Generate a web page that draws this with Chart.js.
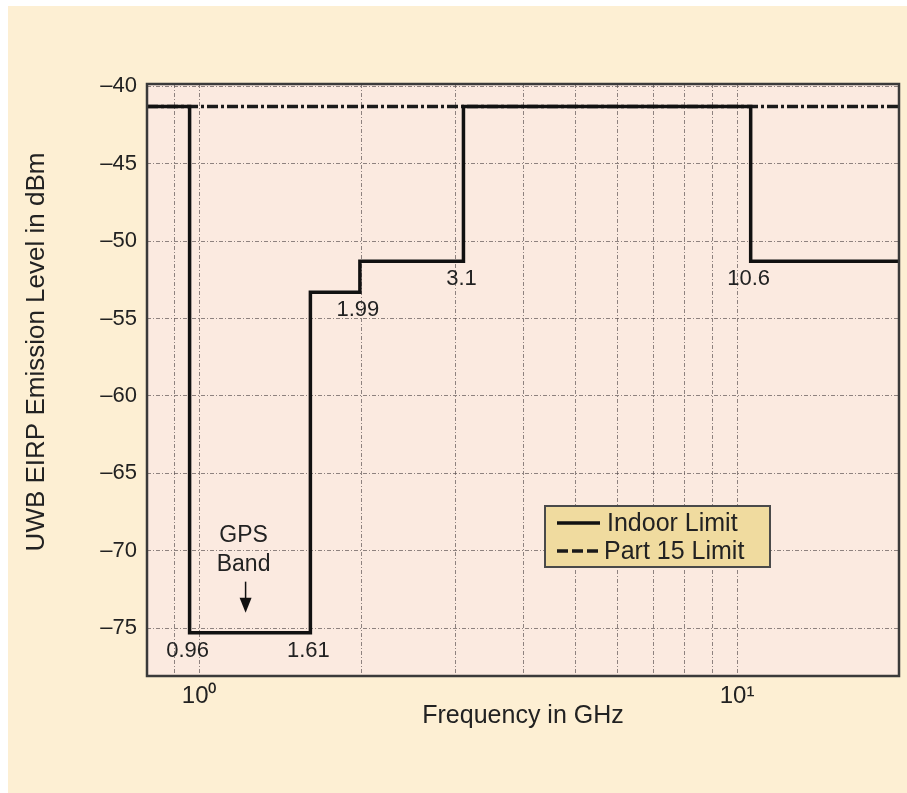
<!DOCTYPE html>
<html>
<head>
<meta charset="utf-8">
<script src="https://cdn.jsdelivr.net/npm/chart.js@4.4.1/dist/chart.umd.min.js"></script>
<style>
html,body{margin:0;padding:0;background:#ffffff;}
canvas{display:block;}
</style>
</head>
<body>
<canvas id="c" width="907" height="793"></canvas>
<script>
// ---- data ----
const bandEdgesGHz   = [0.8, 0.96, 1.61, 1.99, 3.1, 10.6, 20];
const indoorLimitDbm = [-41.3, -75.3, -53.3, -51.3, -41.3, -51.3, -51.3];
const part15FreqGHz  = [0.8, 20];
const part15LimitDbm = [-41.3, -41.3];
const xGridGHz       = [0.9, 1, 2, 3, 4, 5, 6, 7, 8, 9, 10, 20];
const xTickLabels    = {1: '10\u2070', 10: '10\u00B9'};
const yTicksDbm      = [-75, -70, -65, -60, -55, -50, -45, -40];
const edgeLabelFreqs = [0.96, 1.61, 1.99, 3.1, 10.6];
const edgeLabelTexts = ['0.96', '1.61', '1.99', '3.1', '10.6'];
const gpsArrowFreqGHz = 1.22;
const gpsText = ['GPS', 'Band'];
const legendLabels = ['Indoor Limit', 'Part 15 Limit'];
const yTitle = 'UWB EIRP Emission Level in dBm';
const xTitle = 'Frequency in GHz';

const FONT = "'Liberation Sans', Arial, Helvetica, sans-serif";
Chart.defaults.font.family = FONT;
Chart.defaults.color = '#222';

const decor = {
  id: 'decor',
  beforeDraw(chart) {
    const {ctx, chartArea: ca} = chart;
    ctx.save();
    ctx.fillStyle = '#FDEFD3';
    ctx.fillRect(8, 6, chart.width - 8, chart.height - 6);
    ctx.fillStyle = '#FBEAE0';
    ctx.fillRect(ca.left, ca.top, ca.right - ca.left, ca.bottom - ca.top);
    ctx.restore();
  },
  afterDraw(chart) {
    const {ctx, chartArea: ca, scales: {x, y}} = chart;
    ctx.save();
    // frame
    ctx.strokeStyle = '#3a3a3a';
    ctx.lineWidth = 2.5;
    ctx.strokeRect(ca.left, ca.top, ca.right - ca.left, ca.bottom - ca.top);

    // edge labels
    ctx.fillStyle = '#222';
    ctx.font = '22px ' + FONT;
    ctx.textAlign = 'center';
    ctx.textBaseline = 'middle';
    edgeLabelFreqs.forEach((f, i) => {
      const k = bandEdgesGHz.indexOf(f);
      const lower = Math.min(indoorLimitDbm[k - 1], indoorLimitDbm[k]);
      ctx.fillText(edgeLabelTexts[i], x.getPixelForValue(f) - 2, y.getPixelForValue(lower) + 18);
    });

    // GPS band annotation
    const gx = x.getPixelForValue(gpsArrowFreqGHz);
    const gy = y.getPixelForValue(indoorLimitDbm[1]);
    ctx.font = '23px ' + FONT;
    ctx.fillText(gpsText[0], gx - 2, gy - 97);
    ctx.fillText(gpsText[1], gx - 2, gy - 68);
    ctx.strokeStyle = '#111';
    ctx.lineWidth = 1.5;
    ctx.beginPath();
    ctx.moveTo(gx, gy - 51);
    ctx.lineTo(gx, gy - 32);
    ctx.stroke();
    ctx.fillStyle = '#111';
    ctx.beginPath();
    ctx.moveTo(gx - 6, gy - 35);
    ctx.lineTo(gx + 6, gy - 35);
    ctx.lineTo(gx, gy - 20);
    ctx.closePath();
    ctx.fill();

    // legend
    const lx = ca.left + 398, ly = ca.top + 422, lw = 225, lh = 61;
    ctx.fillStyle = '#F0DB9F';
    ctx.fillRect(lx, ly, lw, lh);
    ctx.strokeStyle = '#4a4a4a';
    ctx.lineWidth = 2;
    ctx.strokeRect(lx, ly, lw, lh);
    const ds = chart.data.datasets;
    [0, 1].forEach(i => {
      const ry = ly + 17 + i * 28;
      ctx.strokeStyle = ds[i].borderColor;
      ctx.lineWidth = 3.5;
      ctx.setLineDash(i === 0 ? [] : [11, 4]);
      ctx.beginPath();
      ctx.moveTo(lx + 12, ry);
      ctx.lineTo(lx + 55, ry);
      ctx.stroke();
      ctx.setLineDash([]);
      ctx.fillStyle = '#222';
      ctx.font = '25px ' + FONT;
      ctx.textAlign = 'left';
      ctx.textBaseline = 'middle';
      ctx.fillText(legendLabels[i], lx + (i === 0 ? 62 : 59), ry + 1);
    });

    // y axis title
    ctx.save();
    ctx.translate(37, 352);
    ctx.rotate(-Math.PI / 2);
    ctx.font = '26px ' + FONT;
    ctx.textAlign = 'center';
    ctx.textBaseline = 'middle';
    ctx.fillStyle = '#222';
    ctx.fillText(yTitle, 0, 0);
    ctx.restore();

    ctx.restore();
  }
};

const gridColor = 'rgba(95,85,85,0.7)';

new Chart(document.getElementById('c'), {
  type: 'line',
  data: {
    datasets: [
      {
        label: legendLabels[0],
        data: bandEdgesGHz.map((f, i) => ({x: f, y: indoorLimitDbm[i]})),
        stepped: true,
        borderColor: '#111111',
        borderWidth: 3.5,
        pointRadius: 0,
        fill: false,
        order: 0
      },
      {
        label: legendLabels[1],
        data: part15FreqGHz.map((f, i) => ({x: f, y: part15LimitDbm[i]})),
        borderColor: '#1a1a1a',
        borderWidth: 3.5,
        borderDash: [11, 3, 3, 3],
        pointRadius: 0,
        fill: false,
        order: 1
      }
    ]
  },
  options: {
    responsive: false,
    animation: false,
    devicePixelRatio: 1,
    layout: {padding: {left: 8, top: 84, right: 8, bottom: 47}},
    plugins: {legend: {display: false}, tooltip: {enabled: false}},
    scales: {
      x: {
        type: 'logarithmic',
        min: 0.8,
        max: 20,
        afterBuildTicks: s => { s.ticks = xGridGHz.map(v => ({value: v})); },
        afterFit: s => { s.height = 70; },
        ticks: {
          autoSkip: false, maxRotation: 0, minRotation: 0, padding: 6,
          color: '#222', font: {size: 24},
          callback: v => xTickLabels[v] || ''
        },
        grid: {color: gridColor, lineWidth: 1, drawTicks: false},
        border: {display: false, dash: [4, 2, 1, 2]},
        title: {display: true, text: xTitle, color: '#222', font: {size: 25}, padding: {top: 0, bottom: 15}}
      },
      y: {
        type: 'linear',
        min: -78.1,
        max: -39.85,
        afterBuildTicks: s => { s.ticks = yTicksDbm.map(v => ({value: v})); },
        afterFit: s => { s.width = 139; },
        ticks: {
          padding: 10, color: '#222', font: {size: 22},
          callback: v => '\u2013' + Math.abs(v)
        },
        grid: {color: gridColor, lineWidth: 1, drawTicks: false},
        border: {display: false, dash: [4, 2, 1, 2]}
      }
    }
  },
  plugins: [decor]
});
</script>
</body>
</html>
